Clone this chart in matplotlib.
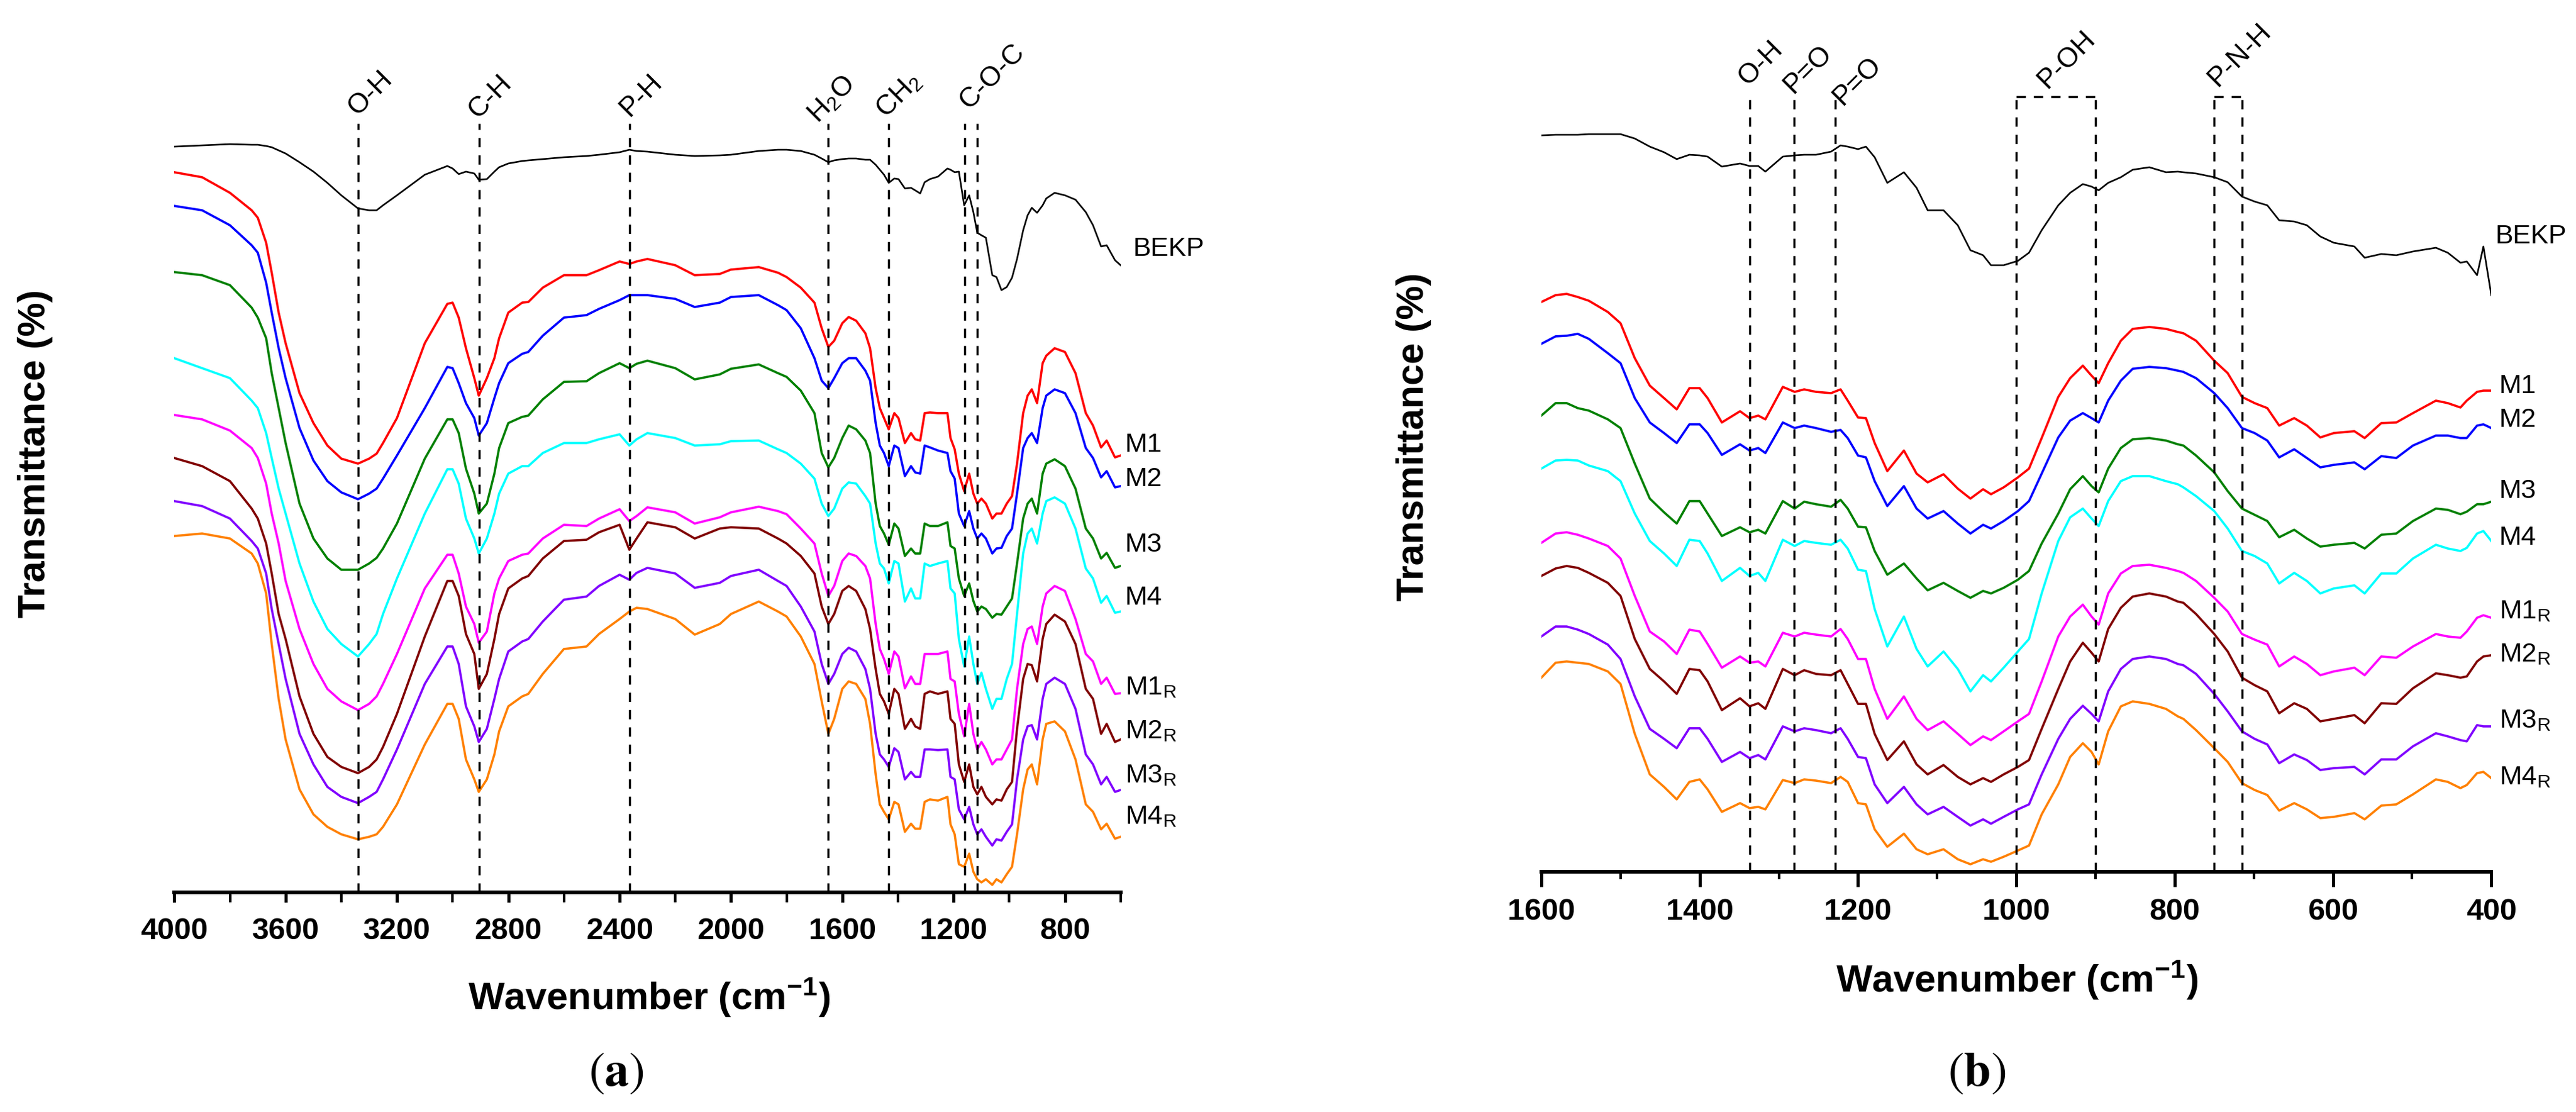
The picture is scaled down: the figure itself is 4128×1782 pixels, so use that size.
import matplotlib
matplotlib.use('Agg')
import matplotlib.pyplot as plt

plt.rcParams['font.family'] = ['Liberation Sans', 'DejaVu Sans']
plt.rcParams['mathtext.fontset'] = 'stix'

# ---------------- panel (a): 4000-600 cm-1 ----------------
wn_a = [4000, 3900, 3800, 3722, 3700, 3670, 3650, 3625, 3600, 3550, 3500, 3450, 3400, 3340, 3300, 3273,
        3250, 3200, 3100, 3019, 3000, 2978, 2952, 2922, 2906, 2877,
        2850, 2833, 2800, 2750, 2728, 2676, 2600, 2519, 2474, 2400, 2365, 2339, 2300, 2200, 2130, 2040,
        2000, 1900, 1831, 1800, 1749,
        1700, 1674, 1650, 1629, 1600, 1577, 1550, 1517, 1500, 1480, 1465, 1450, 1433, 1413, 1398, 1375,
        1353, 1338, 1320, 1304, 1285, 1256, 1222, 1211, 1196, 1181, 1162, 1144, 1129, 1115, 1100, 1084,
        1061, 1046, 1028, 1009, 990, 972, 950, 934, 919, 900, 880, 867, 837, 800, 762, 725, 699, 670,
        650, 620, 600]

bekp_a = [119.5, 119.7, 119.9, 119.8, 119.8, 119.6, 119.4, 118.9, 118.4, 117.0, 115.5, 113.7, 111.7, 109.6, 109.3, 109.3,
          110.1, 111.7, 115.0, 116.4, 116.0, 115.1, 115.5, 115.2, 114.2, 114.3,
          115.5, 116.2, 116.8, 117.2, 117.3, 117.5, 117.8, 118.0, 118.2, 118.6, 119.0, 118.8, 118.7, 118.2, 118.0, 118.1,
          118.2, 118.8, 119.0, 119.0, 118.8,
          118.2, 117.6, 117.0, 117.3, 117.5, 117.6, 117.6, 117.4, 117.4, 116.6, 115.8, 115.0, 113.7, 114.4, 114.3, 112.8,
          112.9, 112.5, 112.0, 113.8, 114.3, 114.7, 116.0, 115.8, 115.4, 115.5, 110.1, 111.7, 109.0, 105.7, 105.3, 104.9,
          98.9, 98.6, 96.5, 97.0, 98.5, 101.5, 106.1, 108.5, 109.7, 108.9, 110.1, 111.2, 112.1, 111.7, 111.0, 109.0, 106.9, 103.5,
          103.7, 101.3, 100.5]

m1_a = [115.4, 114.6, 112.1, 109.3, 108.1, 104.1, 99.3, 92.9, 88.0, 80.0, 75.2, 71.6, 69.5, 68.7, 69.5, 70.3,
        72.0, 76.0, 88.0, 94.3, 94.5, 92.1, 87.2, 82.4, 79.6, 82.4,
        85.6, 88.8, 92.9, 94.5, 94.6, 96.9, 98.9, 98.9, 99.7, 101.1, 100.7, 101.1, 101.5, 100.5, 98.9, 99.1,
        99.8, 100.2, 99.3, 98.6, 96.9,
        94.5, 90.4, 87.4, 88.4, 91.2, 92.2, 91.6, 89.6, 87.2, 80.8, 77.6, 76.0, 74.2, 76.8, 76.0, 72.0,
        73.6, 72.6, 72.4, 76.8, 76.9, 76.8, 76.8, 72.8, 71.0, 67.1, 64.3, 67.1, 63.9, 62.3, 63.1, 62.3,
        59.9, 60.7, 60.7, 62.3, 63.5, 68.7, 76.8, 79.6, 80.6, 78.4, 84.8, 86.0, 87.2, 86.6, 83.2, 76.8, 74.8, 71.3,
        72.4, 69.7, 70.0]

m2_a = [110.0, 109.3, 106.9, 103.7, 102.5, 97.7, 92.9, 87.2, 82.4, 74.4, 69.2, 65.9, 64.1, 63.0, 63.9, 64.7,
        66.3, 70.0, 77.6, 84.2, 84.0, 81.6, 78.4, 76.0, 73.2, 75.2,
        79.2, 81.6, 84.8, 86.3, 86.6, 89.2, 92.1, 92.5, 93.5, 94.9, 95.7, 95.7, 95.7, 95.1, 93.8, 94.5,
        95.4, 95.7, 94.1, 93.3, 90.4,
        85.6, 82.0, 80.8, 82.4, 84.8, 85.6, 85.6, 83.6, 82.0, 75.2, 71.6, 70.4, 68.3, 71.6, 71.2, 66.7,
        68.3, 67.3, 67.1, 71.6, 71.3, 70.8, 70.4, 67.5, 66.3, 60.7, 58.7, 61.1, 58.3, 56.7, 57.5, 56.7,
        54.3, 55.1, 55.2, 57.1, 58.3, 63.9, 71.2, 72.8, 73.6, 72.0, 77.6, 79.6, 80.6, 80.0, 76.8, 71.2, 69.6, 66.5,
        67.5, 64.9, 65.1]

m3_a = [99.4, 98.9, 97.3, 93.7, 92.1, 88.8, 83.2, 77.6, 72.0, 62.3, 56.7, 53.5, 51.7, 51.7, 52.7, 53.6,
        55.1, 59.1, 69.5, 75.8, 75.8, 73.6, 67.9, 63.9, 60.7, 62.3,
        67.1, 71.2, 75.2, 76.2, 76.4, 79.0, 81.8, 81.9, 83.2, 84.8, 84.0, 84.7, 85.2, 84.0, 82.2, 83.0,
        83.9, 84.6, 83.2, 82.6, 80.4,
        76.8, 70.4, 68.1, 69.6, 72.8, 74.8, 74.2, 72.4, 70.4, 62.3, 58.7, 57.5, 55.7, 59.1, 58.3, 53.9,
        55.1, 54.3, 54.3, 59.1, 58.7, 58.7, 59.3, 55.5, 55.1, 50.3, 47.5, 49.5, 46.7, 45.0, 45.8, 45.4,
        44.0, 44.6, 44.5, 45.8, 47.1, 52.7, 59.9, 62.3, 63.1, 60.7, 67.1, 68.7, 69.4, 68.3, 64.7, 58.3, 56.7, 53.5,
        54.4, 52.0, 52.3]

m4_a = [85.6, 84.0, 82.4, 78.8, 77.6, 73.6, 69.6, 64.7, 60.7, 52.7, 46.6, 42.2, 39.8, 37.8, 39.8, 41.4,
        44.6, 50.3, 60.7, 67.8, 67.8, 65.5, 59.9, 56.7, 54.3, 56.7,
        60.7, 63.9, 67.1, 68.3, 68.3, 70.4, 72.0, 72.0, 72.6, 73.4, 71.6, 72.6, 73.6, 72.8, 71.6, 71.8,
        72.3, 72.4, 71.0, 70.4, 68.7,
        66.3, 62.3, 60.3, 61.5, 64.7, 65.7, 65.5, 63.5, 62.3, 55.9, 52.7, 51.9, 49.5, 53.1, 52.7, 46.6,
        48.7, 47.1, 47.1, 52.7, 52.3, 52.7, 53.1, 48.7, 47.9, 40.6, 36.2, 41.0, 36.6, 33.4, 35.2, 32.6,
        29.4, 31.0, 31.0, 34.2, 36.6, 44.6, 54.3, 57.5, 58.3, 55.9, 60.7, 62.7, 63.3, 62.3, 58.3, 51.9, 50.3, 46.4,
        47.5, 44.8, 45.0]

m1r_a = [76.5, 75.8, 74.0, 71.2, 69.6, 65.5, 60.7, 55.9, 49.9, 42.2, 36.6, 32.6, 30.6, 29.2, 30.2, 31.4,
         33.4, 38.2, 48.7, 54.1, 54.1, 51.1, 45.8, 43.0, 40.0, 41.8,
         47.9, 50.3, 53.1, 54.1, 54.3, 56.7, 58.9, 58.7, 59.9, 61.4, 59.5, 60.3, 61.7, 60.9, 59.1, 60.1,
         60.9, 61.8, 61.1, 60.6, 58.3,
         55.9, 51.1, 47.5, 49.1, 53.1, 54.3, 53.9, 52.3, 50.3, 43.0, 39.0, 37.4, 35.0, 38.6, 37.8, 32.7,
         34.6, 33.4, 33.4, 38.2, 38.2, 38.2, 38.6, 34.2, 33.8, 28.6, 25.0, 30.2, 25.4, 22.9, 24.1, 22.9,
         20.5, 21.3, 21.3, 22.9, 24.5, 32.6, 39.8, 42.2, 42.6, 39.8, 45.8, 47.9, 49.1, 48.3, 43.8, 38.2, 37.0, 33.4,
         34.4, 31.8, 31.9]

m2r_a = [69.6, 68.3, 65.9, 61.5, 59.9, 55.9, 51.1, 44.6, 40.6, 31.4, 25.4, 21.7, 20.1, 19.1, 20.1, 21.3,
         23.3, 28.6, 41.0, 49.9, 49.9, 47.5, 41.4, 38.2, 32.6, 35.0,
         40.6, 44.6, 48.7, 50.3, 50.7, 53.5, 56.3, 56.5, 57.7, 58.9, 54.9, 56.7, 59.3, 58.5, 56.7, 58.3,
         58.5, 58.3, 56.7, 55.9, 53.9,
         51.1, 45.8, 43.0, 44.6, 48.3, 49.1, 48.3, 45.4, 42.2, 35.8, 31.8, 30.6, 28.6, 32.6, 31.8, 26.2,
         27.8, 26.6, 26.2, 31.8, 32.2, 31.8, 32.2, 27.8, 27.0, 20.5, 17.7, 20.5, 16.9, 15.7, 16.9, 15.3,
         14.1, 14.9, 14.7, 16.5, 17.7, 26.2, 34.2, 36.6, 36.4, 33.8, 40.6, 43.0, 44.5, 43.4, 39.8, 32.6, 31.0, 25.4,
         27.0, 24.1, 24.5]

m3r_a = [62.7, 61.9, 59.9, 56.3, 55.1, 51.1, 45.4, 39.8, 34.2, 25.4, 20.5, 16.9, 15.3, 14.3, 15.3, 16.1,
         18.1, 22.9, 33.4, 39.4, 39.4, 36.6, 29.8, 26.6, 24.1, 26.2,
         31.0, 34.2, 38.6, 40.2, 40.6, 43.4, 46.9, 47.4, 49.1, 50.9, 50.1, 51.2, 52.0, 51.1, 48.8, 49.6,
         50.7, 51.7, 49.9, 49.1, 45.8,
         41.8, 36.6, 33.4, 35.0, 38.2, 39.2, 38.6, 35.8, 32.6, 25.4, 22.1, 21.3, 20.1, 23.1, 22.5, 18.1,
         19.3, 18.5, 18.5, 22.9, 22.9, 22.8, 22.9, 18.5, 18.1, 13.3, 11.7, 13.7, 10.9, 9.3, 10.1, 8.9,
         7.5, 8.5, 8.3, 9.7, 10.9, 18.1, 24.5, 26.6, 26.8, 24.5, 31.0, 33.4, 34.4, 33.4, 29.4, 22.1, 20.5, 17.3,
         18.5, 16.1, 16.4]

m4r_a = [57.1, 57.5, 56.7, 54.3, 52.7, 47.9, 39.8, 31.0, 24.5, 16.5, 12.5, 10.5, 9.3, 8.5, 8.9, 9.3,
         10.5, 14.1, 23.7, 30.2, 30.2, 27.8, 21.3, 18.1, 16.1, 18.1,
         22.1, 25.8, 29.8, 31.4, 31.8, 35.0, 39.0, 39.4, 41.4, 43.8, 45.0, 45.6, 45.4, 43.8, 41.3, 43.0,
         44.6, 46.6, 45.0, 44.2, 41.0,
         36.6, 30.6, 25.4, 27.8, 32.6, 33.8, 33.4, 31.0, 27.0, 18.9, 14.1, 12.9, 11.7, 14.5, 14.1, 9.7,
         11.0, 10.2, 10.2, 14.5, 14.9, 14.7, 15.3, 10.9, 9.3, 4.5, 4.1, 6.2, 3.3, 2.1, 1.6, 2.1,
         1.2, 2.1, 1.6, 2.9, 4.1, 9.3, 16.5, 19.7, 20.5, 17.3, 24.5, 27.0, 27.4, 25.8, 21.3, 14.1, 12.9, 10.1,
         11.0, 8.6, 8.9]

bands_a = [3340, 2905, 2365, 1650, 1433, 1160, 1115]
band_names_a = ['O-H', 'C-H', 'P-H', r'H$_\mathregular{2}$O', r'CH$_\mathregular{2}$', 'C-O-C']

# ---------------- panel (b): 1600-400 cm-1 ----------------
wn_b = [1600, 1582, 1568, 1554, 1540, 1516, 1500, 1482, 1463, 1445, 1429, 1413, 1400, 1390, 1372, 1349,
        1337, 1326, 1317, 1295, 1280, 1268, 1253, 1234, 1222, 1213, 1200,
        1190, 1179, 1163, 1142, 1126, 1112, 1092, 1074, 1058, 1042, 1032, 1016, 998, 984, 968, 947,
        932, 916, 905, 896, 884, 868, 853, 832, 811, 796,
        789, 773, 750, 733, 715, 699, 683, 668, 649, 633, 616, 599, 573, 560, 539, 520, 499, 470,
        455, 439, 431, 418, 410, 400]

bekp_b = [118.0, 118.1, 118.1, 118.1, 118.2, 118.2, 118.2, 117.5, 116.2, 115.3, 114.2, 114.9, 114.8, 114.6, 113.0, 113.5,
          113.1, 113.1, 112.2, 114.6, 114.8, 114.9, 114.9, 115.4, 116.4, 116.2, 115.8,
          116.2, 114.5, 110.4, 112.1, 109.6, 106.0, 106.0, 103.6, 99.6, 98.8, 97.2, 97.2, 97.9, 99.2, 102.8, 106.8,
          108.8, 110.2, 109.8, 109.2, 110.4, 111.3, 112.5, 112.9, 112.1, 112.2,
          112.1, 111.9, 111.3, 110.5, 108.2, 107.4, 106.8, 104.4, 104.2, 103.6, 101.8, 100.8, 100.2, 98.4, 99.0, 98.8, 99.4, 100.0,
          99.2, 97.6, 97.8, 95.6, 100.2, 92.4]

m1_b = [91.3, 92.4, 92.6, 92.1, 91.5, 89.7, 87.9, 82.3, 77.9, 75.9, 74.1, 77.5, 77.5, 75.9, 72.0, 73.8,
        72.7, 73.1, 72.5, 77.7, 76.9, 77.3, 76.9, 76.7, 77.3, 75.5, 72.8,
        72.7, 68.7, 64.2, 67.5, 63.8, 62.4, 63.7, 61.4, 59.8, 61.3, 60.5, 61.6, 63.2, 64.6, 69.5, 76.1,
        79.1, 81.1, 79.5, 78.3, 81.5, 85.1, 87.0, 87.3, 87.0, 86.5,
        86.3, 85.1, 81.9, 79.9, 76.1, 75.1, 74.3, 71.5, 72.7, 71.5, 69.6, 70.3, 70.6, 69.5, 71.9, 72.0, 73.5, 75.5,
        75.1, 74.4, 75.5, 76.9, 77.1, 77.1]

m2_b = [84.6, 85.8, 85.9, 86.2, 85.4, 83.1, 81.5, 75.9, 72.0, 70.3, 68.7, 71.7, 71.7, 70.3, 66.8, 68.5,
        67.5, 67.9, 67.1, 72.0, 71.1, 71.5, 71.1, 70.5, 70.8, 69.5, 66.7,
        66.4, 62.6, 58.6, 61.8, 58.2, 56.6, 57.8, 55.8, 54.2, 55.6, 55.0, 56.2, 57.8, 59.4, 63.8, 69.6,
        72.3, 73.5, 72.7, 72.0, 75.5, 78.7, 80.6, 80.9, 80.7, 80.3,
        80.1, 79.1, 76.7, 74.3, 71.1, 70.3, 69.1, 66.4, 67.7, 66.3, 64.8, 65.2, 65.6, 64.5, 66.6, 66.3, 68.3, 69.9,
        69.9, 69.5, 69.5, 71.5, 71.7, 71.1]

m3_b = [73.1, 75.1, 75.1, 74.3, 73.9, 72.5, 71.1, 65.4, 59.8, 57.6, 55.8, 59.4, 59.4, 57.4, 53.8, 55.2,
        54.4, 54.8, 54.2, 59.4, 58.2, 59.3, 58.9, 58.5, 59.6, 58.2, 55.3,
        55.2, 51.4, 47.6, 49.4, 47.0, 45.1, 46.3, 45.0, 43.9, 45.0, 44.6, 45.5, 46.8, 48.2, 52.6, 57.4,
        61.3, 63.4, 61.8, 60.8, 64.6, 67.9, 69.3, 69.5, 69.1, 68.5,
        68.3, 66.7, 64.0, 61.0, 58.2, 57.2, 56.2, 53.6, 54.8, 53.4, 52.1, 52.4, 52.7, 51.8, 54.0, 54.2, 56.2, 58.2,
        58.0, 57.3, 57.7, 58.9, 58.9, 59.3]

m4_b = [64.6, 65.9, 66.0, 65.9, 65.1, 64.2, 62.6, 57.4, 53.0, 51.0, 49.0, 53.2, 53.0, 51.0, 46.6, 48.7,
        47.4, 47.9, 46.6, 53.2, 52.2, 53.0, 52.7, 52.4, 53.2, 51.8, 48.4,
        48.2, 42.1, 36.1, 40.9, 35.7, 32.9, 35.3, 32.5, 28.9, 31.5, 30.5, 32.7, 35.3, 37.3, 44.6, 53.0,
        56.8, 58.2, 56.6, 55.4, 59.4, 62.6, 63.4, 63.4, 62.6, 62.1,
        61.6, 60.2, 57.8, 55.0, 51.4, 50.6, 49.4, 46.2, 47.9, 46.6, 44.6, 45.4, 45.9, 44.6, 47.8, 47.8, 50.2, 52.4,
        51.8, 51.4, 51.9, 54.2, 54.6, 53.0]

m1r_b = [52.7, 54.2, 54.4, 54.0, 53.4, 52.2, 50.2, 44.2, 38.5, 36.9, 34.9, 38.8, 38.5, 36.5, 32.7, 34.5,
         33.5, 33.7, 32.9, 38.3, 37.7, 38.3, 38.0, 37.7, 38.9, 37.3, 34.1,
         34.1, 29.3, 24.5, 28.1, 24.5, 22.7, 24.1, 22.1, 20.3, 21.7, 21.1, 22.5, 24.1, 25.3, 30.5, 37.7,
         40.9, 42.8, 40.9, 39.6, 44.6, 47.8, 49.0, 49.2, 48.7, 48.2,
         47.9, 46.6, 43.9, 41.7, 38.1, 37.2, 36.4, 32.9, 34.5, 33.3, 31.5, 32.1, 32.7, 31.5, 34.5, 34.3, 36.1, 38.1,
         37.7, 37.5, 38.5, 40.7, 41.1, 40.7]

m2r_b = [47.4, 48.6, 49.0, 48.7, 47.9, 46.3, 44.2, 37.3, 32.5, 30.5, 28.5, 32.5, 32.3, 30.5, 25.9, 27.8,
         26.5, 27.0, 26.1, 32.5, 31.5, 32.3, 31.7, 31.5, 32.3, 30.1, 26.9,
         26.9, 22.1, 17.9, 20.9, 17.2, 15.6, 17.1, 15.2, 14.0, 15.0, 14.4, 15.6, 16.8, 17.9, 22.9, 29.3,
         33.7, 36.7, 35.1, 33.7, 38.9, 42.3, 44.1, 44.6, 44.1, 43.3,
         43.1, 41.3, 38.1, 35.3, 31.1, 29.9, 28.9, 25.4, 27.0, 26.1, 24.1, 24.5, 25.1, 23.8, 27.0, 26.9, 29.4, 31.8,
         31.5, 31.1, 31.3, 33.7, 34.5, 34.7]

m3r_b = [37.7, 39.3, 39.3, 38.8, 38.1, 36.4, 34.1, 28.1, 22.9, 21.3, 19.8, 23.0, 23.0, 21.3, 17.6, 19.2,
         18.2, 18.7, 18.0, 23.3, 22.5, 23.0, 22.7, 22.2, 23.0, 21.3, 18.4,
         18.2, 14.0, 11.0, 13.6, 10.8, 9.2, 10.4, 8.8, 7.4, 8.4, 7.7, 8.8, 10.0, 10.8, 15.6, 21.3,
         24.5, 26.6, 25.3, 24.1, 28.9, 32.5, 34.1, 34.5, 34.1, 33.3,
         33.1, 31.7, 28.5, 25.7, 22.5, 21.3, 20.4, 17.4, 18.8, 17.9, 16.3, 16.6, 16.8, 15.6, 18.0, 18.0, 20.1, 22.2,
         21.7, 21.1, 20.9, 23.5, 23.3, 23.3]

m4r_b = [31.1, 33.5, 33.7, 33.5, 33.3, 32.1, 30.1, 22.1, 15.6, 13.6, 11.6, 14.4, 14.8, 13.2, 9.6, 11.0,
         10.2, 10.4, 10.0, 14.7, 14.2, 14.8, 14.6, 14.2, 15.2, 14.4, 11.0,
         10.8, 6.8, 4.0, 6.1, 3.6, 2.8, 3.6, 2.0, 1.2, 2.0, 1.6, 2.4, 3.4, 4.2, 9.2, 14.0,
         18.4, 20.6, 19.2, 17.2, 22.5, 26.5, 27.3, 26.9, 26.1, 24.9,
         24.5, 22.7, 19.8, 17.6, 14.2, 13.1, 12.3, 9.8, 11.0, 10.0, 8.6, 8.8, 9.4, 8.4, 10.6, 10.8, 12.4, 14.8,
         14.4, 13.4, 13.9, 15.8, 16.0, 15.0]

bands_b = [1337, 1281, 1229, 1000, 900, 750, 715]
boxes_b = [(1000, 900), (750, 715)]
band_names_b = ['O-H', 'P=O', 'P=O', 'P-OH', 'P-N-H']

names = ['BEKP', 'M1', 'M2', 'M3', 'M4', r'M1$_\mathregular{R}$', r'M2$_\mathregular{R}$',
         r'M3$_\mathregular{R}$', r'M4$_\mathregular{R}$']
colors = ['black', '#FF0000', '#0000FF', '#008000', '#00FFFF', '#FF00FF', '#800000', '#8000FF', '#FF8000']

series_a = [bekp_a, m1_a, m2_a, m3_a, m4_a, m1r_a, m2r_a, m3r_a, m4r_a]
series_b = [bekp_b, m1_b, m2_b, m3_b, m4_b, m1r_b, m2r_b, m3r_b, m4r_b]

DASH = (0, (4.3, 3.7))


def setup_axis(ax, lo, hi, step, minor, tick_len, minor_len, pad):
    ax.set_xlim(hi, lo)
    ax.set_ylim(0, 130)
    for s in ['left', 'right', 'top']:
        ax.spines[s].set_visible(False)
    ax.spines['bottom'].set_linewidth(4.3)
    ax.set_yticks([])
    ticks = list(range(hi, lo - 1, -step))
    if ticks[-1] < lo:
        ticks = ticks[:-1]
    ax.set_xticks(ticks)
    ax.set_xticklabels([str(t) for t in ticks], fontsize=35, fontweight='bold')
    ax.set_xticks(list(range(hi, lo - 1, -minor)), minor=True)
    ax.tick_params(axis='x', which='major', direction='out', length=tick_len, width=3.6, pad=pad)
    ax.tick_params(axis='x', which='minor', direction='out', length=minor_len, width=3.0)


fig = plt.figure(figsize=(41.28, 17.82), dpi=100)
ax_a = fig.add_axes([0.06766, 0.19753, 0.36735, 0.72952])
ax_b = fig.add_axes([0.59835, 0.21605, 0.36878, 0.72952])

# ---- (a)
for y, c in zip(series_a, colors):
    ax_a.plot(wn_a, y, color=c, lw=1.9 if c == 'black' else 2.6, solid_joinstyle='round')
ax_a.vlines(bands_a, 0, 123.2, colors='black', linestyles=DASH, lw=2.5)
setup_axis(ax_a, 600, 4000, 400, 200, 11.5, 11.5, 17)

lab_pos_a = [(3341, 124.4), (2909, 123.9), (2366, 124.2), (1689, 123.2), (1443, 124.0), (1144, 125.4)]
for (x, y), t in zip(lab_pos_a, band_names_a):
    ax_a.text(x, y, t, rotation=45, rotation_mode='anchor', ha='left', va='baseline',
              fontsize=32, clip_on=False)

curve_lab_a = [(555, 102.0), (584, 70.6), (584, 65.1), (584, 54.6), (584, 46.1),
               (584, 31.7), (584, 24.7), (584, 17.6), (584, 11.0)]
for (x, y), t in zip(curve_lab_a, names):
    ax_a.text(x, y, t, ha='left', va='baseline', fontsize=31, clip_on=False)

# ---- (b)
for y, c in zip(series_b, colors):
    ax_b.plot(wn_b, y, color=c, lw=1.9 if c == 'black' else 2.6, solid_joinstyle='round')
ax_b.vlines(bands_b, 0, 124.2, colors='black', linestyles=DASH, lw=2.5)
for x0, x1 in boxes_b:
    ax_b.hlines(124.2, x0, x1, colors='black', linestyles=DASH, lw=2.5)
setup_axis(ax_b, 400, 1600, 200, 100, 17, 8.6, 13)

lab_pos_b = [(1339, 125.9), (1282, 124.6), (1220, 122.7), (961, 125.4), (746, 125.7)]
for (x, y), t in zip(lab_pos_b, band_names_b):
    ax_b.text(x, y, t, rotation=45, rotation_mode='anchor', ha='left', va='baseline',
              fontsize=32, clip_on=False)

curve_lab_b = [(395, 100.7), (390, 76.7), (390, 71.3), (390, 59.9), (390, 52.4),
               (390, 40.6), (390, 33.7), (390, 23.1), (390, 14.0)]
for (x, y), t in zip(curve_lab_b, names):
    ax_b.text(x, y, t, ha='left', va='baseline', fontsize=31, clip_on=False)

# ---- axis titles and panel captions
ylab = 'Transmittance (%)'
xlab = r'Wavenumber (cm$^\mathregular{-1}$)'
fig.text(0.01357, 0.592, ylab, rotation=90, ha='center', va='center', fontsize=44, fontweight='bold')
fig.text(0.5487, 0.607, ylab, rotation=90, ha='center', va='center', fontsize=44, fontweight='bold')
fig.text(0.2522, 0.0926, xlab, ha='center', va='baseline', fontsize=44, fontweight='bold')
fig.text(0.7832, 0.1083, xlab, ha='center', va='baseline', fontsize=44, fontweight='bold')
fig.text(0.2391, 0.0348, r'$(\mathbf{a})$', ha='center', va='center', fontsize=56)
fig.text(0.7674, 0.0348, r'$(\mathbf{b})$', ha='center', va='center', fontsize=56)

fig.savefig('out.png', dpi=100)
